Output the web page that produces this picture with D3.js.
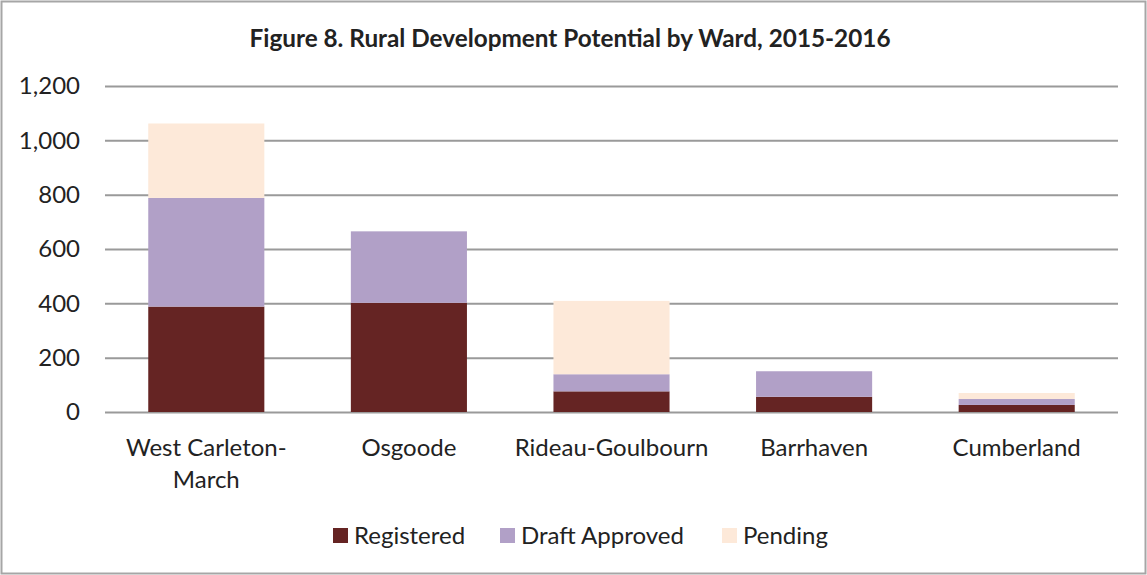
<!DOCTYPE html>
<html>
<head>
<meta charset="utf-8">
<script src="https://cdn.jsdelivr.net/npm/d3@7"></script>
<style>
  body { margin: 0; background: #fff; }
  text { font-family: Lato, "Open Sans", sans-serif; fill: #222; }
</style>
</head>
<body>
<div id="chart"></div>
<script>
var wards = ["West Carleton-\nMarch", "Osgoode", "Rideau-Goulbourn", "Barrhaven", "Cumberland"];
var registered = [388, 402, 76, 56, 26];
var draftApproved = [400, 263, 63, 94, 22];
var pending = [274, 0, 270, 0, 22];
var seriesNames = ["Registered", "Draft Approved", "Pending"];
var seriesColors = ["#652423", "#b1a0c7", "#fde9d9"];
var yTicks = [0, 200, 400, 600, 800, 1000, 1200];

var width = 1147, height = 575;
var plotLeft = 105, plotRight = 1118, plotTop = 86, plotBottom = 412;

var svg = d3.select("#chart").append("svg")
  .attr("width", width)
  .attr("height", height);

// outer frame
svg.append("rect")
  .attr("x", 1.5).attr("y", 1.5)
  .attr("width", width - 3).attr("height", height - 3)
  .attr("fill", "none")
  .attr("stroke", "#a6a6a6")
  .attr("stroke-width", 2);

svg.append("text")
  .attr("x", 570)
  .attr("y", 47)
  .attr("text-anchor", "middle")
  .attr("font-size", 24.3)
  .attr("font-weight", "bold")
  .text("Figure 8. Rural Development Potential by Ward, 2015-2016");

var x = d3.scaleBand().domain(d3.range(wards.length)).range([plotLeft, plotRight]).paddingInner(0.427).paddingOuter(0.2135);
var y = d3.scaleLinear().domain([0, 1200]).range([plotBottom, plotTop]);

// gridlines + y labels
var yAxis = svg.append("g")
  .attr("transform", "translate(" + plotLeft + ",0)")
  .call(d3.axisLeft(y).tickValues(yTicks).tickSize(-(plotRight - plotLeft)).tickPadding(25).tickFormat(d3.format(",")));
yAxis.select(".domain").remove();
yAxis.selectAll(".tick line").attr("stroke", "#9a9a9a").attr("stroke-width", 2);
yAxis.selectAll(".tick text").attr("font-size", 24).attr("fill", "#222").style("font-family", "Lato, sans-serif");

var rows = wards.map(function(w, i) {
  return { i: i, Registered: registered[i], "Draft Approved": draftApproved[i], Pending: pending[i] };
});
var stacked = d3.stack().keys(seriesNames)(rows);

svg.append("g").selectAll("g")
  .data(stacked)
  .join("g")
  .attr("fill", function(d, k) { return seriesColors[k]; })
  .selectAll("rect")
  .data(function(d) { return d.filter(function(p) { return p[1] > p[0]; }); })
  .join("rect")
  .attr("x", function(p) { return x(p.data.i); })
  .attr("width", x.bandwidth())
  .attr("y", function(p) { return y(p[1]); })
  .attr("height", function(p) { return y(p[0]) - y(p[1]); });

// category labels
var xAxis = svg.append("g");
wards.forEach(function(w, i) {
  var cx = x(i) + x.bandwidth() / 2;
  var t = xAxis.append("text")
    .attr("x", cx)
    .attr("y", 456)
    .attr("text-anchor", "middle")
    .attr("font-size", 24);
  w.split("\n").forEach(function(line, j) {
    t.append("tspan").attr("x", cx).attr("dy", j ? 32 : 0).text(line);
  });
});

// legend
var legendX = [333, 500, 722];
var legend = svg.append("g");
seriesNames.forEach(function(name, k) {
  legend.append("rect")
    .attr("x", legendX[k]).attr("y", 528)
    .attr("width", 15).attr("height", 15)
    .attr("fill", seriesColors[k]);
  legend.append("text")
    .attr("x", legendX[k] + 21)
    .attr("y", 544)
    .attr("font-size", 24)
    .text(name);
});
</script>
</body>
</html>
